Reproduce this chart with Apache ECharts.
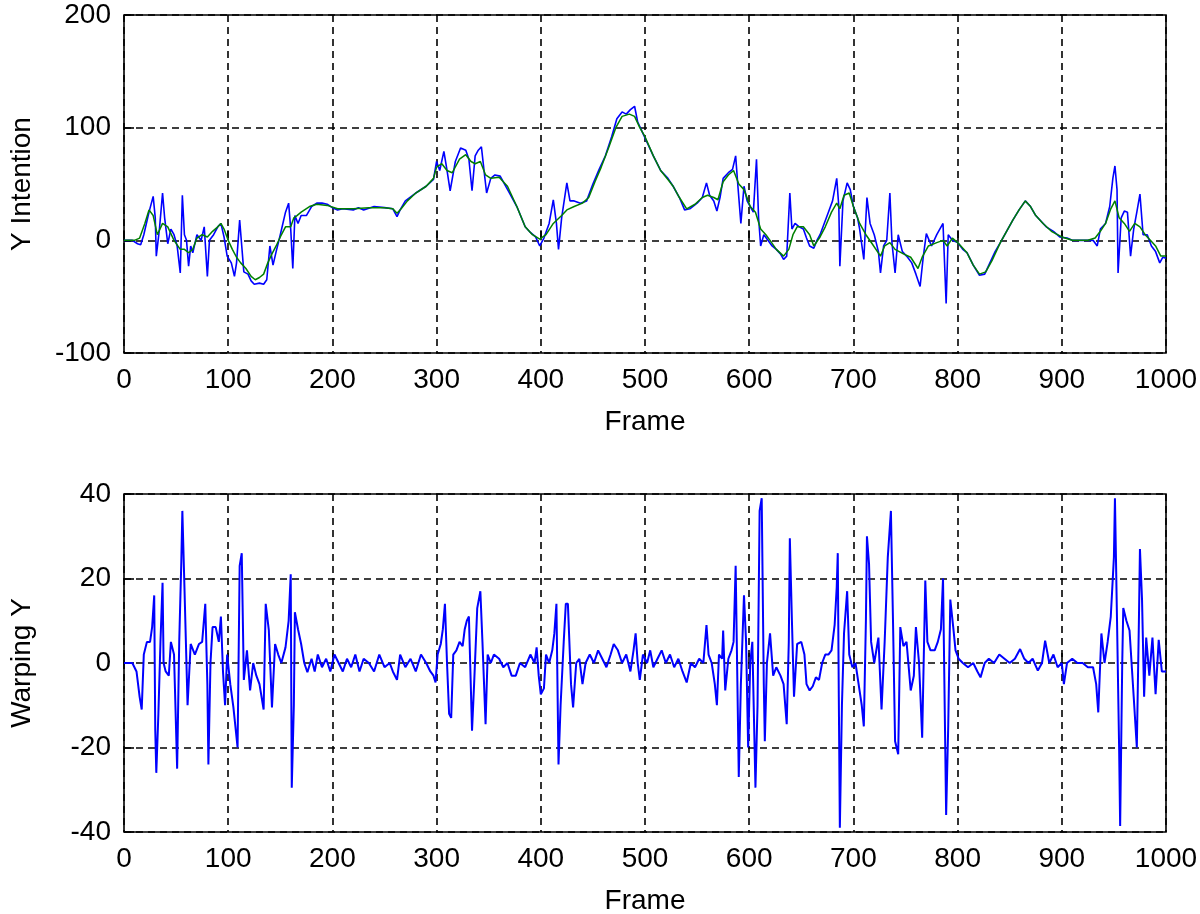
<!DOCTYPE html>
<html>
<head>
<meta charset="utf-8">
<script src="https://cdn.jsdelivr.net/npm/echarts@6/dist/echarts.min.js"></script>
<style>
  html, body { margin: 0; padding: 0; background: #fff; }
  #chart { width: 1200px; height: 914px; }
</style>
</head>
<body>
<div id="chart"></div>
<script>
// [frame, value]
var yIntentionRaw = [
  [0,0],[8,0],[13,-3],[16,-4],[19,5],[24,25],[28,39],[30,20],[31,-14],[34,10],[37,42],[39,20],[42,-3],[45,10],[48,5],[51,-5],
  [54,-29],[56,40],[58,5],[60,0],[62,-23],[64,-5],[66,-11],[70,5],[74,0],[77,12],[80,-32],[82,0],[86,5],[90,12],[93,15],[96,3],
  [99,-14],[103,-20],[106,-32],[108,-20],[111,18],[113,-5],[115,-28],[119,-30],[122,-36],[125,-39],[130,-38],[134,-39],[137,-35],
  [140,-5],[143,-22],[146,-10],[150,5],[155,25],[158,33],[160,10],[162,-25],[164,22],[167,15],[170,22],[175,22],[180,30],[185,33],
  [190,33],[195,32],[200,29],[205,27],[210,28],[220,27],[225,29],[230,27],[240,30],[250,29],[258,28],[262,21],[265,27],[270,35],
  [280,42],[290,48],[297,54],[300,70],[303,62],[307,79],[310,62],[313,44],[318,70],[323,82],[328,80],[331,72],[334,44],[337,75],
  [340,80],[343,83],[346,58],[348,42],[352,55],[356,58],[361,57],[370,42],[377,30],[385,12],[390,7],[395,3],[399,-5],[403,2],
  [408,15],[412,36],[415,15],[417,-8],[420,20],[425,51],[428,35],[432,35],[438,33],[444,35],[450,50],[456,63],[462,75],[468,92],
  [473,108],[478,114],[482,112],[486,116],[490,119],[493,105],[498,95],[503,85],[508,75],[515,62],[522,55],[527,48],[533,38],
  [538,27],[543,28],[550,33],[555,38],[559,51],[562,40],[566,35],[569,26],[572,38],[575,55],[580,60],[584,63],[587,75],[589,50],
  [592,15],[595,48],[598,35],[601,30],[604,25],[607,72],[609,20],[611,-5],[614,5],[618,0],[622,-5],[626,-8],[630,-12],[633,-17],
  [636,-14],[639,42],[641,10],[644,15],[648,12],[652,10],[655,2],[658,-5],[662,-7],[665,0],[668,5],[672,15],[676,25],[680,35],
  [684,55],[686,30],[687,-23],[690,35],[694,51],[697,45],[700,30],[704,20],[706,10],[710,-17],[713,38],[716,15],[720,5],[724,-10],
  [726,-29],[729,-5],[732,0],[735,42],[737,-2],[740,-29],[743,5],[747,-10],[752,-15],[756,-20],[760,-30],[764,-41],[767,-15],
  [770,6],[775,-5],[780,5],[786,15],[789,-56],[791,5],[795,0],[800,-2],[805,-8],[809,-11],[815,-22],[821,-31],[826,-30],[831,-20],
  [836,-10],[841,-2],[847,8],[853,18],[859,27],[865,35],[870,30],[875,22],[879,18],[885,12],[892,8],[898,3],[905,2],[910,0],
  [918,0],[925,0],[930,0],[934,-5],[937,10],[942,15],[946,30],[949,55],[951,66],[953,45],[954,-29],[957,20],[960,26],[963,25],
  [966,-14],[969,10],[972,25],[975,41],[978,5],[982,5],[986,-5],[990,-10],[994,-20],[997,-15],[1000,-16]
];

var yIntentionSmooth = [
  [0,0],[10,0],[15,2],[20,15],[24,27],[28,22],[32,5],[37,15],[42,12],[48,0],[54,-8],[58,-8],[62,-11],[66,-8],[70,2],[75,5],
  [80,3],[85,8],[90,12],[93,15],[96,10],[100,0],[104,-8],[108,-15],[112,-20],[117,-25],[122,-32],[126,-35],[130,-33],[134,-30],
  [138,-20],[142,-12],[146,-5],[150,3],[155,12],[160,12],[163,20],[166,22],[170,25],[178,30],[185,32],[195,31],[205,28],[220,28],
  [235,29],[250,29],[258,28],[262,24],[266,28],[272,35],[280,42],[290,48],[297,55],[300,65],[305,68],[310,62],[315,60],[322,72],
  [328,76],[333,70],[337,68],[342,70],[347,58],[352,55],[360,56],[368,48],[377,30],[385,12],[392,5],[399,1],[405,5],[412,15],
  [420,22],[425,27],[432,30],[440,33],[446,38],[452,52],[458,65],[465,82],[472,100],[478,110],[485,112],[490,110],[495,100],
  [500,92],[508,75],[515,62],[522,54],[527,48],[533,38],[540,28],[548,32],[555,38],[560,40],[566,38],[570,36],[575,52],[580,58],
  [585,62],[590,50],[595,45],[601,30],[606,25],[611,10],[616,5],[620,0],[626,-8],[633,-14],[638,-8],[642,5],[646,12],[652,12],
  [658,5],[662,-5],[668,3],[673,12],[679,25],[684,33],[687,28],[691,40],[696,42],[700,30],[706,15],[712,5],[718,-3],[726,-14],
  [730,-5],[735,-2],[740,-8],[748,-12],[755,-15],[762,-25],[766,-15],[772,-5],[780,-2],[786,0],[790,-5],[795,2],[800,-2],
  [809,-11],[815,-22],[821,-30],[827,-28],[833,-18],[841,-2],[847,8],[853,18],[859,27],[865,35],[870,30],[875,22],[882,15],
  [890,8],[900,3],[910,0],[925,0],[932,2],[937,8],[942,15],[947,28],[951,35],[955,20],[960,15],[965,8],[970,15],[975,12],
  [980,5],[985,0],[990,-5],[995,-14],[1000,-14]
];

var warpingY = [
  [0,0],[8,0],[12,-2],[15,-8],[17,-11],[19,2],[22,5],[25,5],[27,8.5],[29,16],[30,-16],[31,-26],[33,-12],[35,5],[37,19],[38,0],
  [40,-2],[43,-3],[45,5],[48,2],[51,-25],[53,5],[55,24],[56,36],[58,18],[61,-10],[64,4.5],[68,2],[72,4.5],[75,5],[78,14],[80,-5],
  [81,-24],[83,0],[85,8.5],[88,8.5],[91,5],[93,11],[95,-2],[97,-10],[99,2],[102,-5],[105,-10.5],[109,-20],[111,23],[113,26],
  [115,-4],[118,3],[121,-6.5],[124,0],[127,-3],[130,-5],[134,-11],[136,14],[139,7.7],[142,-10.5],[145,4.5],[148,2],[151,0],
  [155,3.7],[158,10],[160,21],[161,-29.5],[163,-10],[164,12],[167,8],[170,4.5],[173,0],[176,-2.2],[180,1],[183,-2],[186,2],
  [190,-1],[194,1],[198,-2],[202,2],[206,0],[210,-2],[214,1],[218,-1],[222,2],[226,-2],[230,1],[235,0],[240,-2],[245,2],[250,-1],
  [255,0],[258,-2],[262,-4],[265,2],[270,-1],[275,1],[280,-2],[285,2],[290,0],[294,-2],[297,-3],[299,-4.6],[301,2],[304,4.5],
  [306,8],[308,14],[310,0],[312,-12],[314,-13],[316,2],[319,3],[322,5],[325,4],[327,8],[329,10],[331,11],[334,-16],[336,-5],
  [339,13],[342,17],[344,5],[347,-14.5],[349,2],[352,0],[355,2],[360,1],[364,-1],[368,0],[372,-3],[376,-3],[380,0],[385,-1],
  [390,2],[394,0],[396,3.7],[398,-3],[400,-7.4],[403,-6],[405,2],[408,0],[411,3],[413,7],[415,14],[417,-24],[419,-10],[422,5],
  [424,14],[426,14],[429,-5],[431,-10.5],[434,0],[437,1],[440,-5],[443,0],[447,2],[451,0],[455,3],[459,1],[463,-1],[467,2],
  [470,4.5],[474,3],[478,0],[482,2],[486,-2],[489,3],[491,7],[493,0],[495,-4],[498,2],[502,0],[505,3],[508,-1],[512,1],[516,3],
  [520,0],[524,2],[528,-1],[532,1],[536,-2],[540,-4.6],[544,0],[548,-1],[552,1],[556,0],[559,9],[561,2],[564,0],[567,-5],
  [569,-10],[571,2],[574,1],[575,7.7],[577,-6.5],[580,1],[583,3],[585,5],[587,23],[590,-27],[592,-5],[595,16],[597,5],[599,-20],
  [601,0],[603,5],[606,-29.5],[608,-10],[610,36],[612,39],[614,-5],[615,-18.5],[617,0],[620,7],[623,-3],[626,-1],[630,-3],
  [633,-5],[636,-14.5],[638,5],[639,29.5],[641,10],[643,-8],[646,4.5],[650,5],[653,2],[655,-5],[658,-6.5],[661,-5.5],[664,-3.4],
  [667,-4],[670,0],[673,2],[676,2],[679,3],[682,9],[684,18],[685,26],[686,-8],[687,-39],[689,-10],[691,7],[694,17],[696,2],
  [699,-1],[702,0],[705,-5],[708,-10],[710,-15],[712,10],[713,30],[715,23.5],[717,5],[720,0],[724,6],[727,-11],[730,5],[733,25],
  [736,36],[738,10],[740,-18.5],[743,-21.6],[745,8.5],[748,4],[751,5],[755,-6.5],[758,-3],[760,8.5],[763,0],[766,-17.7],
  [769,19.5],[771,5],[774,3],[778,3],[781,5],[784,8],[786,20],[789,-36],[791,-15],[793,15],[796,8],[798,3],[801,1],[805,0],
  [810,-1],[815,0],[819,-2],[822,-3.4],[826,0],[830,1],[835,0],[840,2],[845,1],[850,0],[855,1],[860,3.3],[864,1],[868,0],[872,1],
  [877,-1.8],[881,0],[884,5.3],[888,0],[892,2],[896,-1],[900,0],[902,-5],[905,0],[910,1],[915,0],[920,0],[925,-1],[930,-1],
  [933,-5],[935,-11.7],[938,7],[941,0],[944,5],[947,11],[950,25],[951,39],[953,10],[955,-20],[956,-38.6],[958,0],[959,13],
  [962,10],[965,7.7],[969,-8],[972,-20],[974,10],[975,27],[977,15],[979,-8],[981,6],[984,-3],[987,6],[990,-7.4],[993,5.5],
  [996,-2],[1000,-2]
];

var xRange = [0, 1000, 100];
var topRange = [-100, 200, 100];
var bottomRange = [-40, 40, 20];

var font = '"Liberation Sans", Arial, sans-serif';
var dash = { color: '#000', width: 1.6, type: [7, 5] };

function xAxisOpt(idx) {
  return {
    type: 'value', gridIndex: idx,
    min: xRange[0], max: xRange[1], interval: xRange[2],
    name: 'Frame', nameLocation: 'middle', nameGap: 55,
    nameTextStyle: { color: '#000', fontSize: 28, fontFamily: font },
    axisLine: { show: false },
    axisTick: { show: true, inside: true, length: 10, lineStyle: { color: '#000', width: 1.6 } },
    axisLabel: { color: '#000', fontSize: 28, fontFamily: font, margin: 13, formatter: function (v) { return String(v); } },
    splitLine: { show: true, lineStyle: dash }
  };
}
function yAxisOpt(idx, r, name) {
  return {
    type: 'value', gridIndex: idx,
    min: r[0], max: r[1], interval: r[2],
    name: name, nameLocation: 'middle', nameGap: 88,
    nameTextStyle: { color: '#000', fontSize: 28, fontFamily: font },
    axisLine: { show: false },
    axisTick: { show: true, inside: true, length: 10, lineStyle: { color: '#000', width: 1.6 } },
    axisLabel: { color: '#000', fontSize: 28, fontFamily: font, margin: 13 },
    splitLine: { show: true, lineStyle: dash }
  };
}

var chart = echarts.init(document.getElementById('chart'), null, { renderer: 'canvas' });
chart.setOption({
  backgroundColor: '#fff',
  animation: false,
  grid: [
    { left: 124, right: 34, top: 15, height: 338, show: true, borderColor: '#000', borderWidth: 1.6,
      backgroundColor: 'transparent', outerBoundsMode: 'none', containLabel: false },
    { left: 124, right: 34, top: 494, height: 338, show: true, borderColor: '#000', borderWidth: 1.6,
      backgroundColor: 'transparent', outerBoundsMode: 'none', containLabel: false }
  ],
  xAxis: [xAxisOpt(0), xAxisOpt(1)],
  yAxis: [yAxisOpt(0, topRange, 'Y Intention'), yAxisOpt(1, bottomRange, 'Warping Y')],
  series: [
    {
      type: 'line', xAxisIndex: 0, yAxisIndex: 0, data: yIntentionRaw,
      showSymbol: false, lineStyle: { color: '#0000ff', width: 1.6 }, z: 3
    },
    {
      type: 'line', xAxisIndex: 0, yAxisIndex: 0, data: yIntentionSmooth,
      showSymbol: false, lineStyle: { color: '#008000', width: 1.5 }, z: 4
    },
    {
      type: 'line', xAxisIndex: 1, yAxisIndex: 1, data: warpingY,
      showSymbol: false, lineStyle: { color: '#0000ff', width: 2 }, z: 3
    }
  ]
});
</script>
</body>
</html>
